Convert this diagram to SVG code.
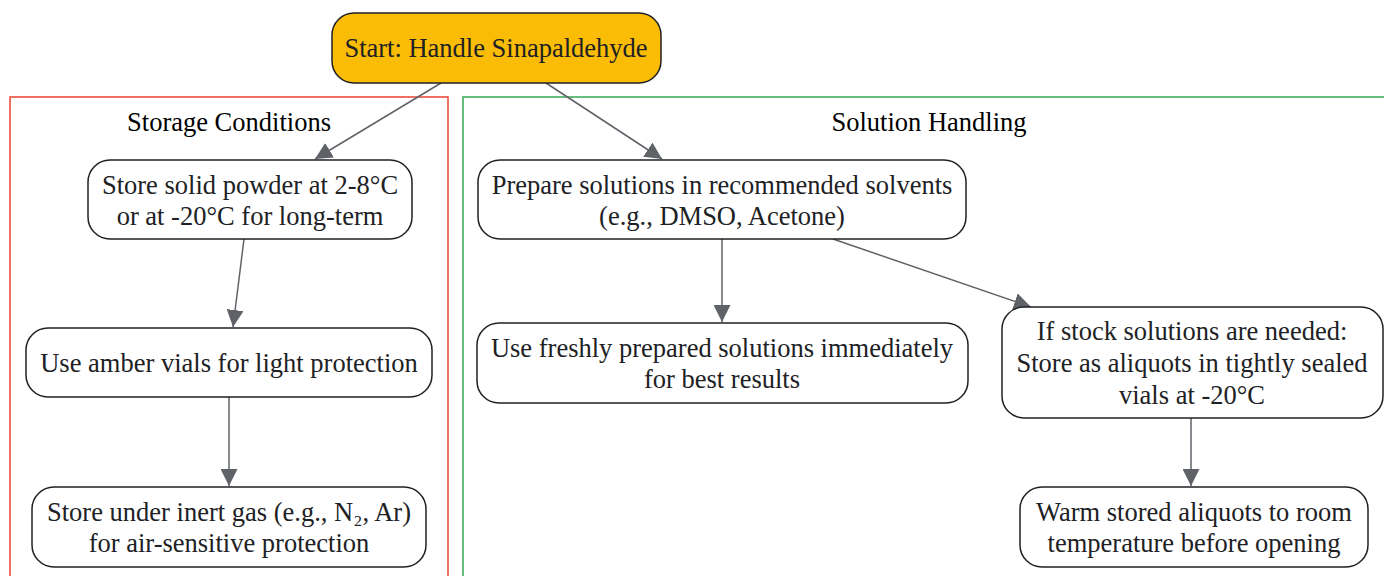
<svg xmlns="http://www.w3.org/2000/svg" width="1384" height="576" viewBox="0 0 1384 576">
<defs>
<style>
.node{fill:#fff;stroke:#202124;stroke-width:1.5}
.t{font-family:"Liberation Serif",serif;font-size:26.5px;fill:#202124;text-anchor:middle}
.ct{font-family:"Liberation Serif",serif;font-size:26.5px;fill:#000;text-anchor:middle}
.e{stroke:#5f6368;stroke-width:1.5;fill:none;marker-end:url(#ah)}
</style>
<marker id="ah" viewBox="0 0 10 10" refX="10" refY="5" markerWidth="17" markerHeight="17" markerUnits="userSpaceOnUse" orient="auto">
<path d="M0,0 L10,5 L0,10 z" fill="#5f6368"/>
</marker>
</defs>
<rect width="1384" height="576" fill="#fff"/>
<g id="cluster_storage">
<rect x="10" y="97" width="438" height="490" fill="none" stroke="#ea4335" stroke-width="1.5"/>
<text class="ct" x="229" y="131">Storage Conditions</text>
</g>
<g id="cluster_solution">
<rect x="463" y="97" width="930" height="490" fill="none" stroke="#34a853" stroke-width="1.5"/>
<text class="ct" x="929" y="131">Solution Handling</text>
</g>
<g id="connectors">
<line class="e" x1="441" y1="83" x2="315" y2="159"/>
<line class="e" x1="546" y1="83" x2="662" y2="159"/>
<line class="e" x1="244" y1="239" x2="233" y2="327"/>
<line class="e" x1="229" y1="397" x2="229" y2="486"/>
<line class="e" x1="722" y1="239" x2="722" y2="322"/>
<line class="e" x1="833" y1="239" x2="1031" y2="307"/>
<line class="e" x1="1191" y1="418" x2="1191" y2="486"/>
</g>
<g id="start">
<rect x="332" y="13" width="329" height="70" rx="22" fill="#fbbc05" stroke="#202124" stroke-width="1.5"/>
<text class="t" x="496" y="57">Start: Handle Sinapaldehyde</text>
</g>
<g id="store_powder">
<rect class="node" x="88" y="160" width="324" height="79" rx="22"/>
<text class="t" x="250" y="194">Store solid powder at 2-8°C</text>
<text class="t" x="250" y="225">or at -20°C for long-term</text>
</g>
<g id="amber_vials">
<rect class="node" x="26" y="328" width="406" height="69" rx="22"/>
<text class="t" x="229" y="372">Use amber vials for light protection</text>
</g>
<g id="inert_gas">
<rect class="node" x="32" y="487" width="394" height="80" rx="22"/>
<text class="t" x="229" y="521">Store under inert gas (e.g., N₂, Ar)</text>
<text class="t" x="229" y="552">for air-sensitive protection</text>
</g>
<g id="prepare">
<rect class="node" x="478" y="160" width="488" height="79" rx="22"/>
<text class="t" x="722" y="194">Prepare solutions in recommended solvents</text>
<text class="t" x="722" y="225">(e.g., DMSO, Acetone)</text>
</g>
<g id="fresh">
<rect class="node" x="477" y="323" width="491" height="80" rx="22"/>
<text class="t" x="722" y="357">Use freshly prepared solutions immediately</text>
<text class="t" x="722" y="388">for best results</text>
</g>
<g id="stock">
<rect class="node" x="1002" y="307" width="381" height="111" rx="22"/>
<text class="t" x="1192" y="340">If stock solutions are needed:</text>
<text class="t" x="1192" y="372">Store as aliquots in tightly sealed</text>
<text class="t" x="1192" y="404">vials at -20°C</text>
</g>
<g id="warm">
<rect class="node" x="1020" y="487" width="348" height="80" rx="22"/>
<text class="t" x="1194" y="521">Warm stored aliquots to room</text>
<text class="t" x="1194" y="552">temperature before opening</text>
</g>
</svg>
